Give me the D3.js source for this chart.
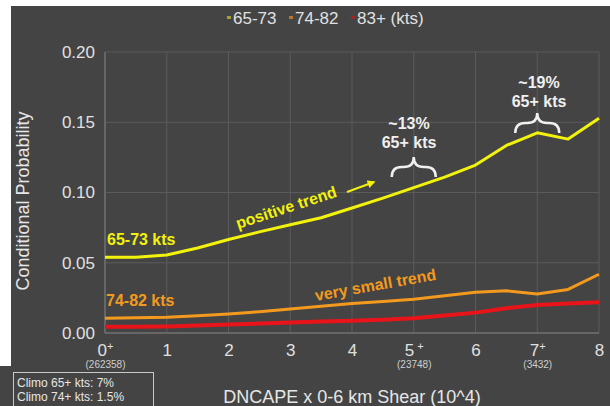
<!DOCTYPE html>
<html><head><meta charset="utf-8">
<script src="https://cdn.jsdelivr.net/npm/d3@7"></script>
<style>body{margin:0;background:#fff}svg{display:block}text{font-family:"Liberation Sans",Arial,sans-serif}</style>
</head><body>
<svg id="c" width="610" height="406"></svg>
<script>
const xValues = [0,0.5,1,1.5,2,2.5,3,3.5,4,4.5,5,5.5,6,6.5,7,7.5,8];
const s6573 = [0.054,0.054,0.0555,0.0605,0.0665,0.072,0.077,0.082,0.089,0.096,0.1035,0.111,0.1195,0.1335,0.1425,0.138,0.1528];
const s7482 = [0.0105,0.0108,0.0112,0.0122,0.0135,0.0152,0.0171,0.019,0.021,0.0225,0.024,0.0265,0.029,0.030,0.0278,0.031,0.0418];
const s83 = [0.0045,0.0045,0.0047,0.0053,0.006,0.0067,0.0075,0.0082,0.0088,0.0095,0.0105,0.0125,0.0145,0.0176,0.020,0.021,0.0218];
const xTicks = [0,1,2,3,4,5,6,7,8];
const xTickSup = {0:"+",5:" +",7:"+"};
const xTickCounts = {0:"(262358)",5:"(23748)",7:"(3432)"};
const yTicks = [0,0.05,0.10,0.15,0.20];
const legendItems = [{label:"65-73",color:"#a8a030"},{label:"74-82",color:"#b87828"},{label:"83+ (kts)",color:"#a82222"}];
const seriesList = [
  {name:"83+",values:s83,color:"#e8141a",width:4},
  {name:"74-82",values:s7482,color:"#f39a1e",width:3},
  {name:"65-73",values:s6573,color:"#f2f20c",width:3}
];

const svg = d3.select("#c");
svg.append("rect").attr("width",610).attr("height",406).attr("fill","#fff");
svg.append("rect").attr("x",11).attr("y",6).attr("width",599).attr("height",400).attr("fill","#444444");
svg.append("rect").attr("x",0).attr("y",366).attr("width",158).attr("height",40).attr("fill","#444444");

const x = d3.scaleLinear().domain([0,8]).range([105,599]);
const y = d3.scaleLinear().domain([0,0.2]).range([333,52]);

// gridlines
const g = svg.append("g");
g.selectAll("line.v").data(xTicks).join("line")
  .attr("x1",d=>x(d)).attr("x2",d=>x(d)).attr("y1",y(0)).attr("y2",y(0.2))
  .attr("stroke","#5b5b5b").attr("stroke-width",1);
g.selectAll("line.h").data(yTicks).join("line")
  .attr("x1",x(0)).attr("x2",x(8)).attr("y1",d=>y(d)).attr("y2",d=>y(d))
  .attr("stroke","#5b5b5b").attr("stroke-width",1);
g.append("line").attr("x1",x(0)).attr("x2",x(0)).attr("y1",y(0)).attr("y2",y(0.2)).attr("stroke","#6e6e6e").attr("stroke-width",1.5);
g.append("line").attr("x1",x(0)).attr("x2",x(8)).attr("y1",y(0)).attr("y2",y(0)).attr("stroke","#6e6e6e").attr("stroke-width",1.5);

// axes
const xAxis = svg.append("g").attr("transform",`translate(0,${y(0)})`)
  .call(d3.axisBottom(x).tickValues(xTicks).tickSize(0).tickPadding(11).tickFormat(d=>d));
xAxis.select(".domain").remove();
xAxis.selectAll("text").attr("fill","#e0e0e0").attr("font-size",17)
  .each(function(d){
    if(xTickSup[d]!==undefined){
      const t=d3.select(this);
      t.append("tspan").attr("font-size",11).attr("dy","-0.55em").text(xTickSup[d]);
    }
  });
xAxis.selectAll(".tick").append("text")
  .attr("y",35).attr("fill","#cfcfcf").attr("font-size",10).attr("text-anchor","middle")
  .text(d=>xTickCounts[d]||"");

const yAxis = svg.append("g").attr("transform",`translate(${x(0)},0)`)
  .call(d3.axisLeft(y).tickValues(yTicks).tickSize(0).tickPadding(10).tickFormat(d3.format(".2f")));
yAxis.select(".domain").remove();
yAxis.selectAll("text").attr("fill","#e0e0e0").attr("font-size",17);

// axis titles
svg.append("text").attr("x",352).attr("y",403).attr("text-anchor","middle")
  .attr("fill","#e6e6e6").attr("font-size",18).text("DNCAPE x 0-6 km Shear (10^4)");
svg.append("text").attr("transform","translate(29,201) rotate(-90)").attr("text-anchor","middle")
  .attr("fill","#e6e6e6").attr("font-size",18).text("Conditional Probability");

// lines
const line = d3.line().x((d,i)=>x(xValues[i])).y(d=>y(d));
svg.selectAll("path.series").data(seriesList).join("path")
  .attr("d",d=>line(d.values)).attr("fill","none")
  .attr("stroke",d=>d.color).attr("stroke-width",d=>d.width).attr("stroke-linejoin","round");

// legend
const lg = svg.append("g");
let lx = 233;
const lxs=[233,295,357];
legendItems.forEach((it,i)=>{
  lg.append("rect").attr("x",lxs[i]-6).attr("y",16).attr("width",4).attr("height",3).attr("fill",it.color);
  lg.append("text").attr("x",lxs[i]).attr("y",24).attr("fill","#e0e0e0").attr("font-size",17).text(it.label);
});

// annotations
svg.append("text").attr("x",107).attr("y",245).attr("fill","#f2f20c").attr("font-size",16).attr("font-weight","bold").text("65-73 kts");
svg.append("text").attr("x",106).attr("y",306).attr("fill","#f39a1e").attr("font-size",16).attr("font-weight","bold").text("74-82 kts");
svg.append("text").attr("transform","translate(238,229) rotate(-18)").attr("fill","#f2f20c").attr("font-size",16).attr("font-weight","bold").text("positive trend");
svg.append("text").attr("transform","translate(316,301) rotate(-10)").attr("fill","#f39a1e").attr("font-size",16).attr("font-weight","bold").text("very small trend");

svg.append("defs").append("marker").attr("id","ah").attr("viewBox","0 0 10 10").attr("refX",8).attr("refY",5)
  .attr("markerWidth",4).attr("markerHeight",4).attr("orient","auto")
  .append("path").attr("d","M0,0L10,5L0,10Z").attr("fill","#f2f20c");
svg.append("line").attr("x1",347).attr("y1",192).attr("x2",374).attr("y2",182)
  .attr("stroke","#f2f20c").attr("stroke-width",2).attr("marker-end","url(#ah)");

function brace(cx, hw, yt, yb){
  const x0=cx-hw, x1=cx+hw, ym=(yt+yb)/2, r=(yb-yt)/2;
  return `M${x0},${yb} Q${x0},${ym} ${x0+r},${ym} L${cx-r},${ym} Q${cx},${ym} ${cx},${yt} Q${cx},${ym} ${cx+r},${ym} L${x1-r},${ym} Q${x1},${ym} ${x1},${yb}`;
}
svg.append("path").attr("d",brace(x(5),22,157,177)).attr("fill","none").attr("stroke","#f0f0f0").attr("stroke-width",2.5);
svg.append("path").attr("d",brace(x(7),22,113,133)).attr("fill","none").attr("stroke","#f0f0f0").attr("stroke-width",2.5);
[[409,129,"~13%"],[409,148,"65+ kts"],[539,88,"~19%"],[539,107,"65+ kts"]].forEach(a=>{
  svg.append("text").attr("x",a[0]).attr("y",a[1]).attr("text-anchor","middle").attr("fill","#f0f0f0")
    .attr("font-size",16).attr("font-weight","bold").text(a[2]);
});

// climo box
svg.append("rect").attr("x",13.5).attr("y",372.5).attr("width",140).attr("height",40).attr("fill","none").attr("stroke","#c8c8c8").attr("stroke-width",1);
svg.append("text").attr("x",17).attr("y",387).attr("fill","#e6e6e6").attr("font-size",12).text("Climo 65+ kts: 7%");
svg.append("text").attr("x",17).attr("y",401).attr("fill","#e6e6e6").attr("font-size",12).text("Climo 74+ kts: 1.5%");
</script>
</body></html>
